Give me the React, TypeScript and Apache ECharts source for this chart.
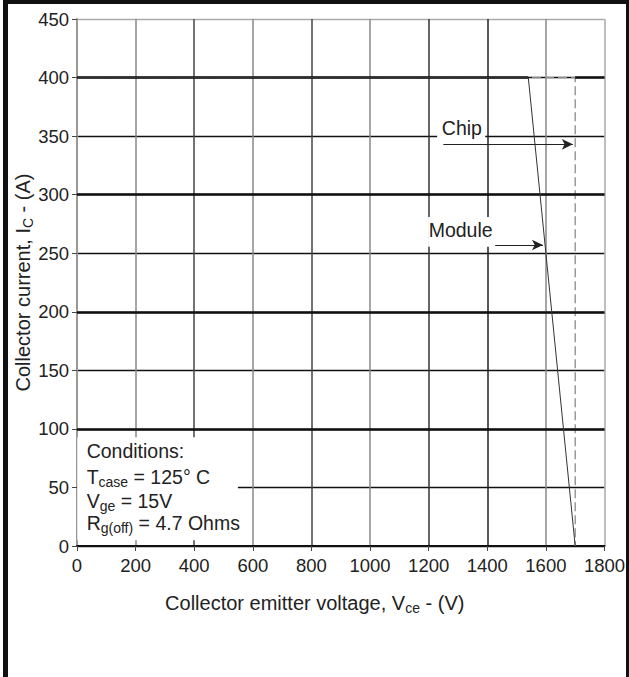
import React, { useEffect, useRef } from "react";
import * as echarts from "echarts";

// Axis ranges / ticks
const xMin = 0, xMax = 1800, xStep = 200;
const yMin = 0, yMax = 450, yStep = 50;

// RBSOA curves (Vce [V], Ic [A])
const moduleV = [0, 1540, 1700];
const moduleI = [400, 400, 0];
const chipV = [0, 1700, 1700];
const chipI = [400, 400, 0];

// heavy horizontal grid lines
const heavyGridI = [100, 200, 300];
// 400 A heavy line is split where the chip/module limits run
const heavy400Segments = [[0, 1540], [1700, 1800]];

// arrows: [startV, endV, I]
const chipArrow = [1250, 1692, 343];
const moduleArrow = [1205, 1590, 257];

const FONT = "'Liberation Sans', Arial, Helvetica, sans-serif";
const TXT = "#222";

const xSplitColors = ["#999", "#888", "#444", "#888", "#444", "#888", "#333", "#222", "#888", "#aaa"];
const ySplitColors = ["#111", "#111", "#111", "#111", "#111", "#111", "#111", "#111", "#111", "#aaa"];

export default function App() {
  const ref = useRef<HTMLDivElement>(null);
  useEffect(() => {
    if (!ref.current) return;
    const chart = echarts.init(ref.current, null, { renderer: "svg" });
    const subRich = {
      s: { fontSize: 14, lineHeight: 14, verticalAlign: "bottom", fontFamily: FONT, color: TXT },
    };
    const option: any = {
      animation: false,
      backgroundColor: "#fff",
      grid: { left: 77, right: 24.5, top: 19, bottom: 131, containLabel: false, outerBoundsMode: "none" },
      xAxis: {
        type: "value",
        min: xMin,
        max: xMax,
        interval: xStep,
        name: "Collector emitter voltage, V{s|ce} - (V)",
        nameLocation: "middle",
        nameGap: 45,
        nameTextStyle: {
          fontSize: 20, lineHeight: 24, color: TXT, fontFamily: FONT, rich: subRich,
          padding: [0, 52, 0, 0],
        },
        axisLine: { show: true, onZero: false, lineStyle: { color: "#111", width: 2 } },
        axisTick: { show: true, length: 5, lineStyle: { color: "#444", width: 1 } },
        axisLabel: { fontSize: 18.5, color: TXT, fontFamily: FONT, margin: 10, formatter: (v: number) => String(v) },
        splitLine: { show: true, lineStyle: { color: xSplitColors, width: 1.5 } },
      },
      yAxis: {
        type: "value",
        min: yMin,
        max: yMax,
        interval: yStep,
        name: "Collector current, I{s|C} - (A)",
        nameLocation: "middle",
        nameGap: 42,
        nameMoveOverlap: false,
        nameTextStyle: { fontSize: 20, lineHeight: 24, color: TXT, fontFamily: FONT, rich: subRich },
        axisLine: { show: true, onZero: false, lineStyle: { color: "#999", width: 2 } },
        axisTick: { show: true, length: 5, lineStyle: { color: "#444", width: 1 } },
        axisLabel: { fontSize: 18.5, color: TXT, fontFamily: FONT, margin: 8, formatter: (v: number) => String(v) },
        splitLine: { show: true, lineStyle: { color: ySplitColors, width: 1.3 } },
      },
      series: [
        {
          name: "Chip",
          type: "line",
          z: 3,
          data: chipV.map((v, k) => [v, chipI[k]]),
          showSymbol: false,
          symbol: "none",
          lineStyle: { color: "#8a8a8a", width: 1.3, type: [9, 4] },
          silent: true,
        },
        {
          name: "grid-heavy",
          type: "line",
          z: 4,
          data: [],
          symbol: "none",
          silent: true,
          markLine: {
            silent: true,
            symbol: ["none", "none"],
            label: { show: false },
            lineStyle: { color: "#111", width: 2.5, type: "solid" },
            data: [
              ...heavyGridI.map((i) => ({ yAxis: i })),
              ...heavy400Segments.map((s) => [{ coord: [s[0], 400] }, { coord: [s[1], 400] }]),
            ],
          },
        },
        {
          name: "Module",
          type: "line",
          z: 5,
          data: moduleV.map((v, k) => [v, moduleI[k]]),
          showSymbol: false,
          symbol: "none",
          lineStyle: { color: "#333", width: 1 },
          silent: true,
        },
        {
          name: "arrows",
          type: "line",
          z: 20,
          data: [],
          symbol: "none",
          silent: true,
          markLine: {
            silent: true,
            symbol: ["none", "arrow"],
            symbolSize: [8, 11],
            label: { show: false },
            lineStyle: { color: "#222", width: 1.2, type: "solid" },
            itemStyle: { color: "#222" },
            data: [
              [{ coord: [chipArrow[0], chipArrow[2]] }, { coord: [chipArrow[1], chipArrow[2]] }],
              [{ coord: [moduleArrow[0], moduleArrow[2]] }, { coord: [moduleArrow[1], moduleArrow[2]] }],
            ],
          },
        },
      ],
    };
    chart.setOption(option);

    const px = (v: number, i: number) => chart.convertToPixel({ gridIndex: 0 }, [v, i]) as number[];
    const box = (v0: number, i0: number, v1: number, i1: number) => {
      const a = px(v0, i0);
      const b = px(v1, i1);
      return {
        type: "rect",
        z: 10,
        silent: true,
        shape: { x: Math.min(a[0], b[0]), y: Math.min(a[1], b[1]), width: Math.abs(b[0] - a[0]), height: Math.abs(b[1] - a[1]) },
        style: { fill: "#fff" },
      };
    };
    const annRich = {
      s: { fontSize: 14, lineHeight: 14, verticalAlign: "bottom", fontFamily: FONT, fill: TXT, color: TXT },
    };
    const text = (str: string, v: number, i: number) => {
      const p = px(v, i);
      return {
        type: "text",
        z: 12,
        silent: true,
        x: p[0],
        y: p[1],
        style: {
          text: str,
          fontSize: 19.5,
          fontFamily: FONT,
          fill: TXT,
          lineHeight: 24,
          align: "left",
          verticalAlign: "middle",
          rich: annRich,
        },
      };
    };
    chart.setOption({
      graphic: [
        box(1, 92.9, 549, 4.9),
        box(1229, 365.6, 1393, 346.8),
        box(1198, 281, 1427, 255.5),
        text("Conditions:", 33, 81.5),
        text("T{s|case} = 125° C", 33, 59),
        text("V{s|ge} = 15V", 33, 38.5),
        text("R{s|g(off)} = 4.7 Ohms", 33, 19.5),
        text("Chip", 1245, 357),
        text("Module", 1200, 270),
      ],
    });
    return () => chart.dispose();
  }, []);
  return (
    <div style={{ position: "absolute", left: 0, top: 0, width: 629, height: 677, background: "#fff" }}>
      <div ref={ref} style={{ position: "absolute", left: 0, top: 0, width: 629, height: 677 }} />
      <div
        style={{
          position: "absolute",
          left: 3,
          top: 0,
          width: 626,
          height: 690,
          borderLeft: "5px solid #111",
          borderTop: "4px solid #111",
          borderRight: "3px solid #111",
          boxSizing: "border-box",
          pointerEvents: "none",
        }}
      />
    </div>
  );
}
